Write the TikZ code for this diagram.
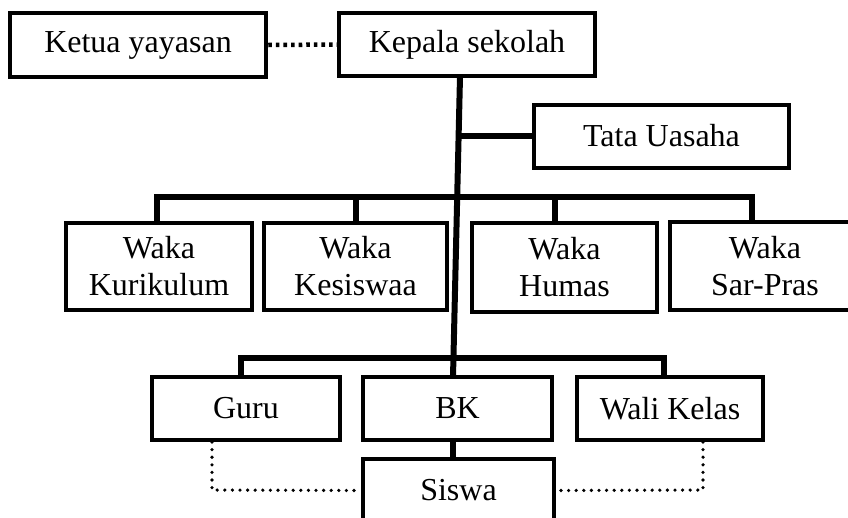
\documentclass[tikz,border=0pt]{standalone}
\usepackage{fontspec}
\setmainfont{Liberation Serif}
\begin{document}
\begin{tikzpicture}[x=1pt,y=-1pt,
  box/.style={draw,line width=4pt,inner sep=0pt,anchor=center,align=center,
    font=\fontsize{32}{37}\selectfont},
  conn/.style={line width=6pt},
  dotline/.style={line width=3.6pt,line cap=round,dash pattern=on 0pt off 7.6pt},
  sqdot/.style={line width=4.5pt,dash pattern=on 3.6pt off 4pt}]
\useasboundingbox (0,0) rectangle (848,517);
\clip (0,0) rectangle (848,517);
\fill[white] (0,0) rectangle (848,517);
% boxes
\node[box,line width=4.5pt,minimum width=256pt,minimum height=64pt] (ketua) at (138,45) {Ketua yayasan};
\node[box,minimum width=256pt,minimum height=63pt] (kepala) at (467,44.5) {Kepala sekolah};
\node[box,minimum width=255pt,minimum height=63pt] (tata) at (661.5,136) {Tata Uasaha};
\node[box,minimum width=186pt,minimum height=87pt] (w1) at (159,266.5) {Waka\\Kurikulum};
\node[box,minimum width=183pt,minimum height=87pt] (w2) at (355.5,266.5) {Waka\\Kesiswaa};
\node[box,minimum width=185pt,minimum height=89pt] (w3) at (564.5,267.5) {Waka\\Humas};
\node[box,minimum width=190pt,minimum height=88pt] (w4) at (765,266) {Waka\\Sar-Pras};
\node[box,minimum width=188pt,minimum height=63pt] (guru) at (246,408.5) {Guru};
\node[box,minimum width=189pt,minimum height=63pt] (bk) at (457.5,408.5) {BK};
\node[box,minimum width=186pt,minimum height=63pt] (wali) at (670,408.5) {Wali Kelas};
\node[box,minimum width=191pt,minimum height=63pt] (siswa) at (458.5,490.5) {Siswa};
% coordinates
\coordinate (ktop) at (460,76.5);
\coordinate (kbot) at (453,377);
\coordinate (tj) at (458.6,136);
\coordinate (d1) at (157,197);
\coordinate (d2) at (356,197);
\coordinate (d3) at (555,197);
\coordinate (d4) at (752,197);
\coordinate (e1) at (241,358);
\coordinate (e3) at (664,358);
\coordinate (gd) at (212,490);
\coordinate (wd) at (703,490);
\coordinate (bs) at (453,440);
% connectors
\draw[sqdot] (ketua.east) -- (kepala.west);
\draw[conn] (ktop) -- (kbot);
\draw[conn] (tj) -- (tata.west);
\draw[conn] (d1 |- w1.north) -- (d1) -- (d4) -- (d4 |- w4.north);
\draw[conn] (d2) -- (d2 |- w2.north);
\draw[conn] (d3) -- (d3 |- w3.north);
\draw[conn] (e1 |- guru.north) -- (e1) -- (e3) -- (e3 |- wali.north);
\draw[conn] (bs) -- (bs |- siswa.north);
\draw[dotline] (gd |- guru.south) -- (gd) -- (siswa.west);
\draw[dotline] (wd |- wali.south) -- (wd) -- (siswa.east);
\end{tikzpicture}
\end{document}
